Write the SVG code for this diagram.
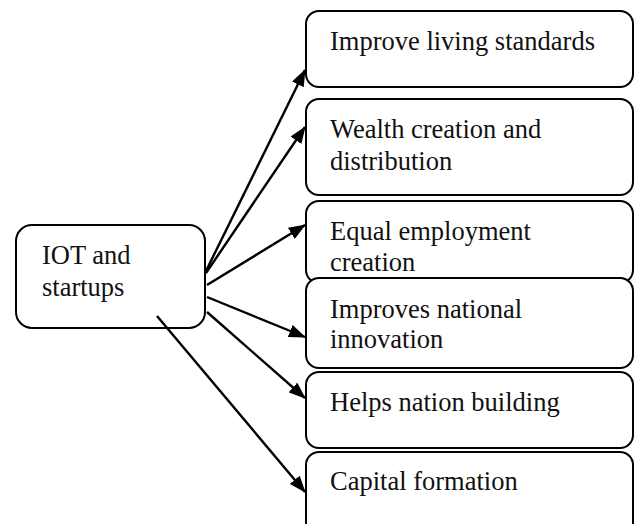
<svg xmlns="http://www.w3.org/2000/svg" width="638" height="524" viewBox="0 0 638 524">
  <style>
    .box { fill: #ffffff; stroke: #000000; stroke-width: 2; }
    .label { font-family: "Liberation Serif", "Times New Roman", serif; font-size: 26.5px; fill: #111111; }
    .link { stroke: #000000; stroke-width: 2.4; fill: none; marker-end: url(#head); }
  </style>
  <defs>
    <marker id="head" viewBox="0 0 17 13" refX="16" refY="6.5" markerWidth="17" markerHeight="13" markerUnits="userSpaceOnUse" orient="auto">
      <path d="M0,0 L17,6.5 L0,13 Z" fill="#000000"/>
    </marker>
  </defs>
  <rect width="638" height="524" fill="#ffffff"/>

  <!-- source node -->
  <g id="iot-startups">
    <rect class="box" x="16" y="225" width="189" height="103" rx="16"/>
    <text class="label" x="42" y="264">IOT and</text>
    <text class="label" x="42" y="296">startups</text>
  </g>

  <!-- outcome nodes -->
  <g id="living-standards">
    <rect class="box" x="306" y="11" width="327" height="76" rx="13"/>
    <text class="label" x="330" y="50">Improve living standards</text>
  </g>
  <g id="wealth">
    <rect class="box" x="306" y="99" width="327" height="96" rx="13"/>
    <text class="label" x="330" y="138">Wealth creation and</text>
    <text class="label" x="330" y="170">distribution</text>
  </g>
  <g id="employment">
    <rect class="box" x="306" y="201" width="327" height="82" rx="13"/>
    <text class="label" x="330" y="240">Equal employment</text>
    <text class="label" x="330" y="271">creation</text>
  </g>
  <g id="innovation">
    <rect class="box" x="306" y="278" width="327" height="90" rx="13"/>
    <text class="label" x="330" y="318">Improves national</text>
    <text class="label" x="330" y="348">innovation</text>
  </g>
  <g id="nation-building">
    <rect class="box" x="306" y="372" width="327" height="76" rx="13"/>
    <text class="label" x="330" y="411">Helps nation building</text>
  </g>
  <g id="capital">
    <rect class="box" x="306" y="452" width="327" height="84" rx="13"/>
    <text class="label" x="330" y="490">Capital formation</text>
  </g>

  <!-- connectors -->
  <g id="connectors">
    <line class="link" x1="205" y1="273" x2="305" y2="70"/>
    <line class="link" x1="206" y1="273" x2="305" y2="127"/>
    <line class="link" x1="207" y1="285" x2="305" y2="225"/>
    <line class="link" x1="207" y1="297" x2="305" y2="337"/>
    <line class="link" x1="207" y1="312" x2="305" y2="398"/>
    <line class="link" x1="157" y1="316" x2="305" y2="492"/>
  </g>
</svg>
